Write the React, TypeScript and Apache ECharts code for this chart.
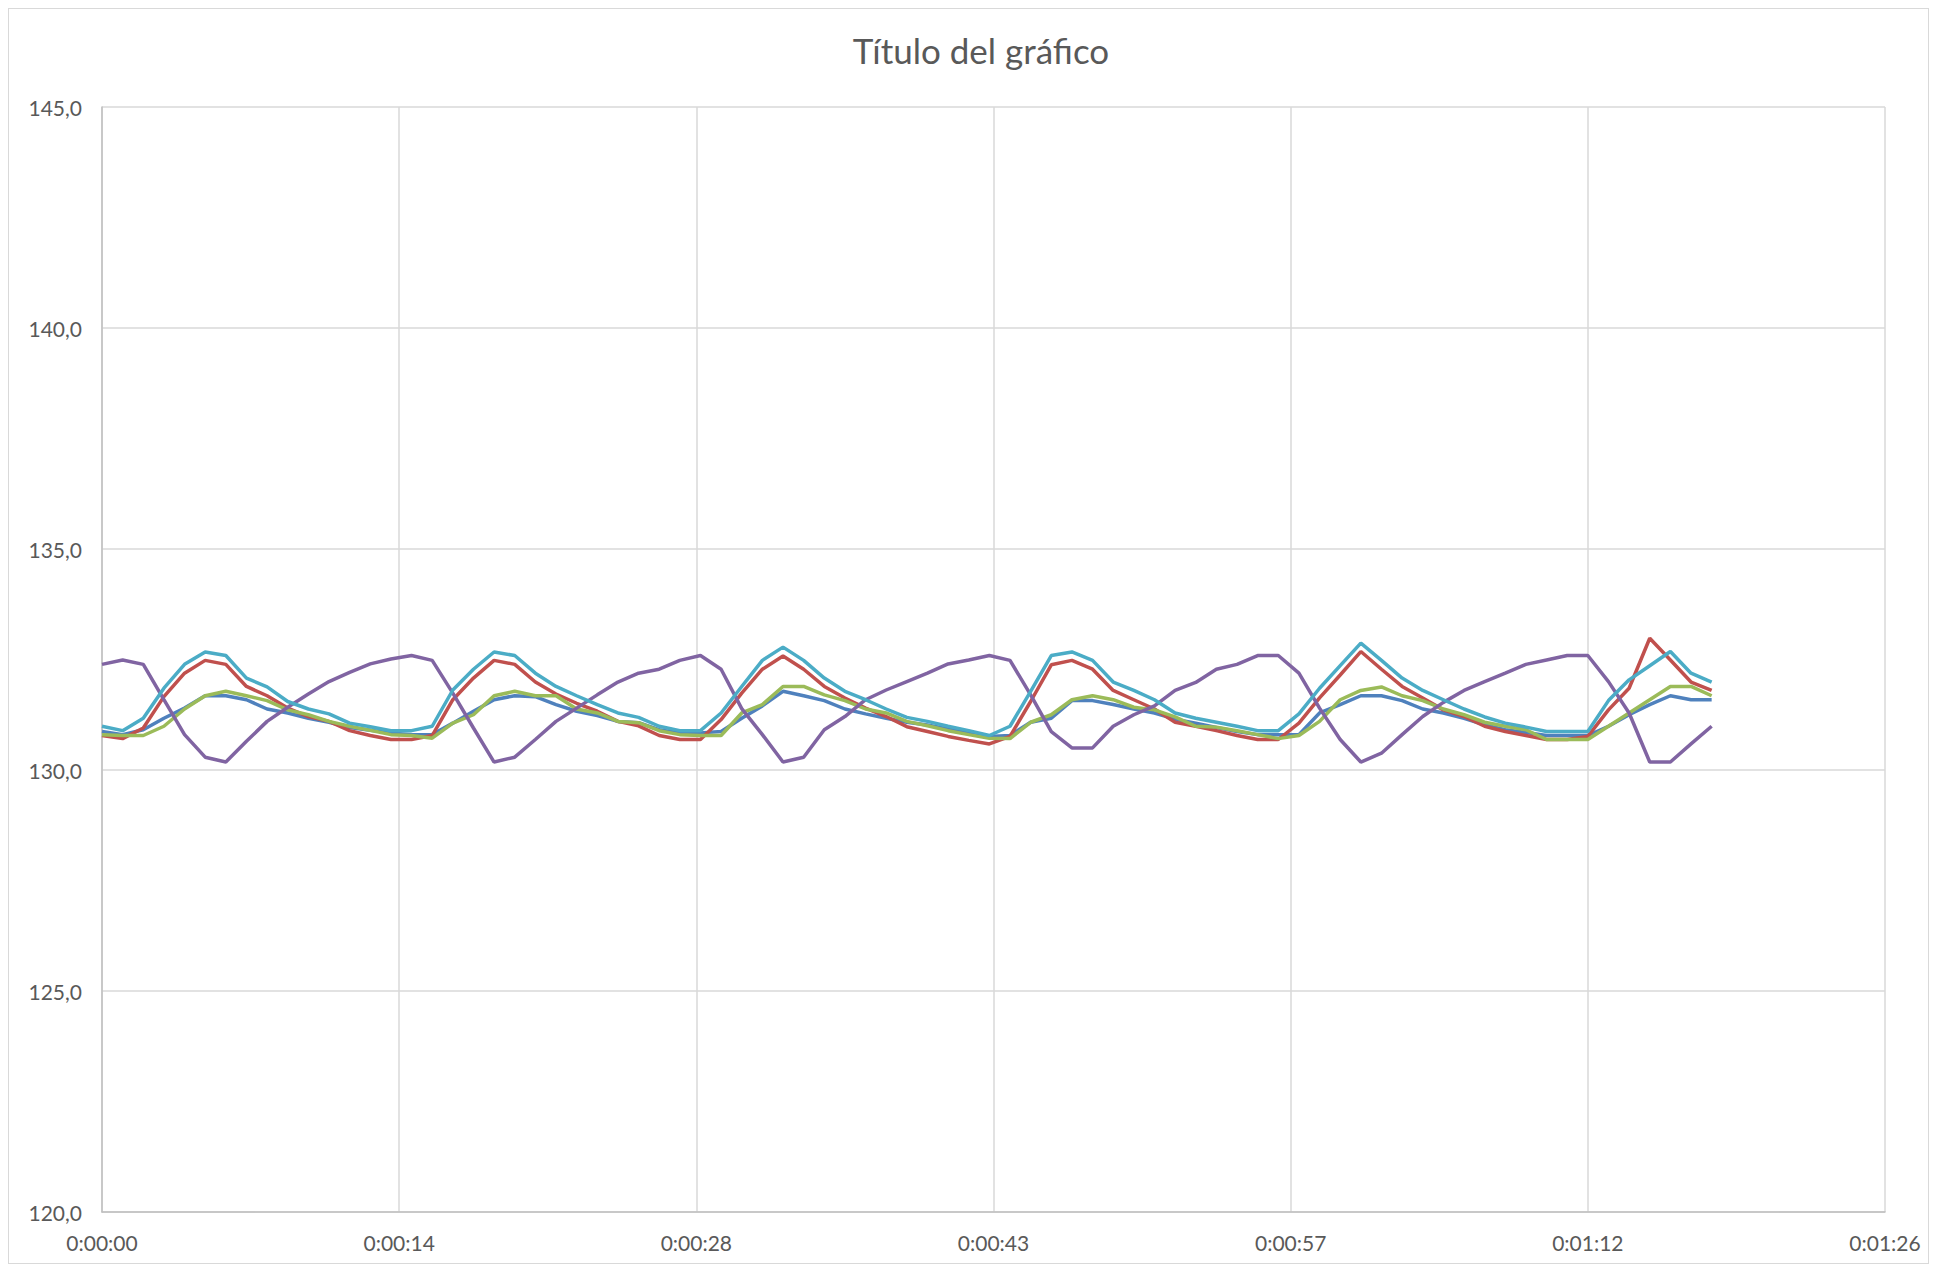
import React, { useEffect, useRef } from "react";
import * as echarts from "echarts";

const TITLE = "Título del gráfico";

const seconds = [
  0, 1, 2, 3, 4, 5, 6, 7, 8, 9, 10, 11, 12, 13, 14, 15, 16, 17, 18, 19,
  20, 21, 22, 23, 24, 25, 26, 27, 28, 29, 30, 31, 32, 33, 34, 35, 36, 37, 38, 39,
  40, 41, 42, 43, 44, 45, 46, 47, 48, 49, 50, 51, 52, 53, 54, 55, 56, 57, 58, 59,
  60, 61, 62, 63, 64, 65, 66, 67, 68, 69, 70, 71, 72, 73, 74, 75, 76, 77, 78,
];

const seriesBlue = [
  130.87, 130.8, 130.91, 131.17, 131.4, 131.68, 131.68, 131.59, 131.38, 131.29,
  131.17, 131.08, 130.96, 130.9, 130.84, 130.8, 130.8, 131.06, 131.33, 131.59,
  131.68, 131.66, 131.48, 131.33, 131.23, 131.1, 131.07, 130.91, 130.84, 130.84,
  130.87, 131.17, 131.45, 131.78, 131.68, 131.57, 131.38, 131.27, 131.17, 131.08,
  131.02, 130.93, 130.84, 130.76, 130.78, 131.08, 131.17, 131.57, 131.57, 131.48,
  131.38, 131.29, 131.15, 131.06, 130.96, 130.87, 130.8, 130.8, 130.8, 131.29,
  131.48, 131.68, 131.68, 131.57, 131.38, 131.29, 131.17, 131.02, 130.91, 130.85,
  130.78, 130.78, 130.78, 130.99, 131.25, 131.48, 131.68, 131.59, 131.59,
];

const seriesRed = [
  130.78, 130.71, 130.95, 131.66, 132.19, 132.48, 132.39, 131.89, 131.68, 131.4,
  131.21, 131.1, 130.89, 130.78, 130.69, 130.69, 130.78, 131.59, 132.08, 132.48,
  132.39, 131.99, 131.72, 131.51, 131.33, 131.1, 131.0, 130.78, 130.69, 130.69,
  131.14, 131.74, 132.28, 132.58, 132.28, 131.89, 131.63, 131.4, 131.21, 130.98,
  130.87, 130.76, 130.67, 130.59, 130.76, 131.55, 132.38, 132.48, 132.28, 131.8,
  131.59, 131.38, 131.08, 130.99, 130.89, 130.78, 130.69, 130.69, 131.06, 131.63,
  132.15, 132.68, 132.28, 131.89, 131.63, 131.36, 131.21, 130.99, 130.87, 130.78,
  130.69, 130.69, 130.76, 131.36, 131.85, 132.98, 132.49, 131.99, 131.8,
];

const seriesGreen = [
  130.8, 130.78, 130.78, 130.99, 131.38, 131.68, 131.78, 131.68, 131.57, 131.36,
  131.25, 131.1, 130.99, 130.9, 130.8, 130.78, 130.72, 131.06, 131.25, 131.68,
  131.78, 131.68, 131.68, 131.38, 131.29, 131.1, 131.07, 130.89, 130.8, 130.78,
  130.78, 131.29, 131.48, 131.89, 131.89, 131.7, 131.57, 131.38, 131.29, 131.1,
  131.0, 130.89, 130.8, 130.72, 130.71, 131.08, 131.25, 131.59, 131.68, 131.59,
  131.42, 131.36, 131.2, 130.99, 130.97, 130.89, 130.8, 130.71, 130.78, 131.1,
  131.59, 131.8, 131.88, 131.68, 131.57, 131.38, 131.25, 131.08, 130.99, 130.91,
  130.69, 130.69, 130.69, 130.99, 131.29, 131.59, 131.89, 131.89, 131.68,
];

const seriesPurple = [
  132.39, 132.49, 132.39, 131.59, 130.8, 130.29, 130.18, 130.65, 131.1, 131.42,
  131.72, 132.0, 132.21, 132.4, 132.51, 132.59, 132.48, 131.74, 130.95, 130.18,
  130.29, 130.69, 131.1, 131.4, 131.7, 131.99, 132.19, 132.28, 132.48, 132.59,
  132.28, 131.39, 130.8, 130.18, 130.29, 130.91, 131.21, 131.59, 131.81, 132.0,
  132.19, 132.4, 132.49, 132.59, 132.48, 131.7, 130.87, 130.5, 130.5, 130.99,
  131.25, 131.45, 131.8, 131.98, 132.28, 132.39, 132.59, 132.59, 132.19, 131.4,
  130.69, 130.18, 130.38, 130.8, 131.21, 131.53, 131.8, 132.0, 132.19, 132.39,
  132.49, 132.59, 132.59, 132.0, 131.29, 130.18, 130.18, 130.59, 130.99,
];

const seriesCyan = [
  130.99, 130.89, 131.17, 131.85, 132.39, 132.67, 132.59, 132.08, 131.88, 131.55,
  131.38, 131.27, 131.06, 130.98, 130.89, 130.89, 130.99, 131.81, 132.28, 132.67,
  132.59, 132.19, 131.89, 131.68, 131.48, 131.29, 131.19, 130.99, 130.89, 130.89,
  131.29, 131.89, 132.48, 132.78, 132.48, 132.08, 131.78, 131.59, 131.38, 131.19,
  131.1, 130.99, 130.89, 130.78, 130.99, 131.78, 132.59, 132.67, 132.48, 131.99,
  131.8, 131.59, 131.29, 131.17, 131.08, 130.99, 130.89, 130.89, 131.27, 131.85,
  132.36, 132.87, 132.48, 132.08, 131.8, 131.59, 131.38, 131.2, 131.06, 130.97,
  130.87, 130.87, 130.87, 131.57, 132.04, 132.36, 132.68, 132.19, 131.99,
];

const seriesList = [
  { name: "Serie1", color: "#4f81bd", values: seriesBlue },
  { name: "Serie2", color: "#c0504d", values: seriesRed },
  { name: "Serie3", color: "#9bbb59", values: seriesGreen },
  { name: "Serie4", color: "#8064a2", values: seriesPurple },
  { name: "Serie5", color: "#4bacc6", values: seriesCyan },
];

const fmtTime = (v: number) => {
  const t = Math.floor(v + 1e-6);
  const h = Math.floor(t / 3600);
  const m = Math.floor((t % 3600) / 60);
  const s = t % 60;
  return `${h}:${String(m).padStart(2, "0")}:${String(s).padStart(2, "0")}`;
};

export default function App() {
  const ref = useRef<HTMLDivElement>(null);
  useEffect(() => {
    if (!ref.current) return;
    const chart = echarts.init(ref.current, undefined, { renderer: "svg" });
    const font = "Lato, 'Open Sans', sans-serif";
    chart.setOption({
      animation: false,
      backgroundColor: "#ffffff",
      textStyle: { fontFamily: font },
      title: {
        text: TITLE,
        left: 967,
        textAlign: "center",
        top: 18,
        textStyle: { fontFamily: font, fontSize: 35, fontWeight: "normal", color: "#595959" },
      },
      grid: { left: 93, right: 43, top: 98, bottom: 51, containLabel: false },
      xAxis: {
        type: "value",
        min: 0,
        max: 86.4,
        interval: 14.4,
        axisLine: { show: true, lineStyle: { color: "#bfbfbf", width: 1.5 } },
        axisTick: { show: false },
        splitLine: { show: true, lineStyle: { color: "#d9d9d9", width: 1.5 } },
        axisLabel: {
          color: "#595959",
          fontSize: 21,
          fontFamily: font,
          margin: 20,
          formatter: (v: number) => fmtTime(v),
          showMaxLabel: true,
          showMinLabel: true,
        },
      },
      yAxis: {
        type: "value",
        min: 120,
        max: 145,
        interval: 5,
        axisLine: { show: true, lineStyle: { color: "#bfbfbf", width: 1.5 } },
        axisTick: { show: false },
        splitLine: { show: true, lineStyle: { color: "#d9d9d9", width: 1.5 } },
        axisLabel: {
          color: "#595959",
          fontSize: 21,
          fontFamily: font,
          margin: 20,
          formatter: (v: number) => v.toFixed(1).replace(".", ","),
        },
      },
      series: seriesList.map((s) => ({
        name: s.name,
        type: "line",
        data: seconds.map((t, i) => [t, s.values[i]]),
        showSymbol: false,
        symbol: "none",
        lineStyle: { color: s.color, width: 3.5 },
        itemStyle: { color: s.color },
      })),
    });
    return () => chart.dispose();
  }, []);
  return (
    <div
      ref={ref}
      style={{
        width: 1919,
        height: 1254,
        border: "1px solid #d9d9d9",
        background: "#fff",
      }}
    />
  );
}
